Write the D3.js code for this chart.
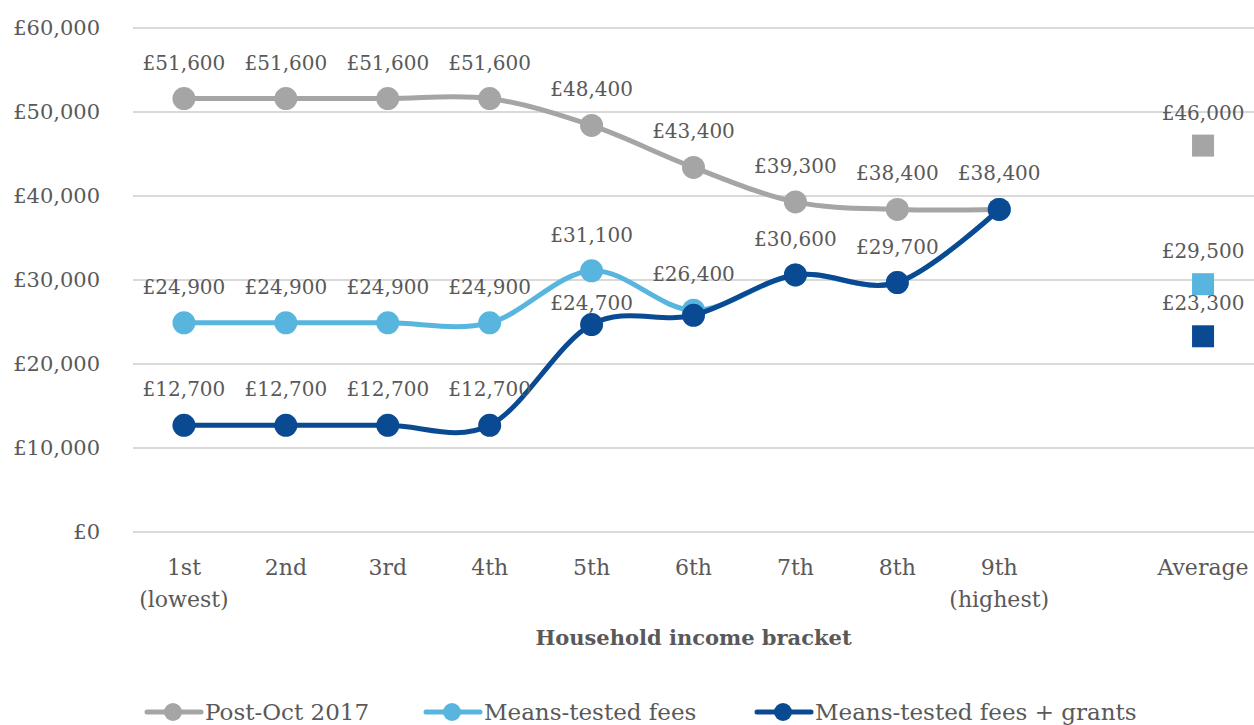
<!DOCTYPE html>
<html>
<head>
<meta charset="utf-8">
<script src="https://cdn.jsdelivr.net/npm/d3@7"></script>
<style>
  body { margin: 0; background: #fff; }
  svg text { font-family: "DejaVu Serif", serif; fill: #595959; }
</style>
</head>
<body>
<div id="vis"></div>
<script>
// categories on the x axis (the empty one is the gap before Average)
var categories = ['1st (lowest)', '2nd', '3rd', '4th', '5th', '6th', '7th', '8th', '9th (highest)', '', 'Average'];
var brackets = categories.slice(0, 9);

// series values per income bracket
var postOct = [51600, 51600, 51600, 51600, 48400, 43400, 39300, 38400, 38400];
var meansFees = [24900, 24900, 24900, 24900, 31100, 26400, 30600, 29700, 38400];
var meansGrants = [12700, 12700, 12700, 12700, 24700, 25800, 30600, 29700, 38400];

// averages, in series order
var averages = [46000, 29500, 23300];

var seriesNames = ['Post-Oct 2017', 'Means-tested fees', 'Means-tested fees + grants'];
var yTicks = [0, 10000, 20000, 30000, 40000, 50000, 60000];

var width = 1254;
var height = 725;
var colours = ['#A5A5A5', '#58B6DE', '#0A4A92'];

// labels that excel hid because they sat on top of others
var hiddenLabels = [[], [6, 7, 8], [5, 8]];

var series = [postOct, meansFees, meansGrants].map(function (vals, i) {
  return { name: seriesNames[i], values: vals, colour: colours[i], avg: averages[i], hidden: hiddenLabels[i] };
});

var x = d3.scaleBand().domain(categories).range([133, 1254]);
var y = d3.scaleLinear().domain([0, 60000]).range([532, 28]);
var cx = function (c) { return x(c) + x.bandwidth() / 2; };

var money = function (v) { return '£' + d3.format(',')(v); };

var svg = d3.select('#vis').append('svg')
  .attr('width', width)
  .attr('height', height);

// gridlines
svg.append('g').selectAll('line')
  .data(yTicks)
  .enter().append('line')
  .attr('x1', 133).attr('x2', width)
  .attr('y1', function (d) { return y(d); })
  .attr('y2', function (d) { return y(d); })
  .attr('stroke', '#D9D9D9')
  .attr('stroke-width', 2);

// y axis labels
svg.append('g').selectAll('text')
  .data(yTicks)
  .enter().append('text')
  .attr('x', 100)
  .attr('y', function (d) { return y(d); })
  .attr('dy', '0.35em')
  .attr('text-anchor', 'end')
  .style('font-size', '21px')
  .text(money);

// x axis labels, split onto two lines
var xl = svg.append('g').selectAll('text')
  .data(categories.filter(function (c) { return c !== ''; }))
  .enter().append('text')
  .attr('text-anchor', 'middle')
  .style('font-size', '22px');

xl.selectAll('tspan')
  .data(function (c) { return c.split(' ').map(function (s) { return { c: c, s: s }; }); })
  .enter().append('tspan')
  .attr('x', function (d) { return cx(d.c); })
  .attr('y', function (d, i) { return 575 + i * 32; })
  .text(function (d) { return d.s; });

svg.append('text')
  .attr('x', 133 + (width - 133) / 2)
  .attr('y', 645)
  .attr('text-anchor', 'middle')
  .style('font-size', '21px')
  .style('font-weight', 'bold')
  .text('Household income bracket');

// smooth lines like excel's
var line = d3.line()
  .x(function (d, i) { return cx(brackets[i]); })
  .y(function (d) { return y(d); })
  .curve(d3.curveCatmullRom.alpha(0));

var sg = svg.selectAll('.series')
  .data(series)
  .enter().append('g')
  .attr('class', 'series');

sg.append('path')
  .attr('d', function (d) { return line(d.values); })
  .attr('fill', 'none')
  .attr('stroke', function (d) { return d.colour; })
  .attr('stroke-width', 5);

sg.selectAll('circle')
  .data(function (d) { return d.values.map(function (v, i) { return { v: v, i: i, colour: d.colour }; }); })
  .enter().append('circle')
  .attr('cx', function (d) { return cx(brackets[d.i]); })
  .attr('cy', function (d) { return y(d.v); })
  .attr('r', 11.5)
  .attr('fill', function (d) { return d.colour; });

// average squares
sg.append('rect')
  .attr('x', cx('Average') - 11)
  .attr('y', function (d) { return y(d.avg) - 11; })
  .attr('width', 22)
  .attr('height', 22)
  .attr('fill', function (d) { return d.colour; });

// data labels
series.forEach(function (s, si) {
  var lab = s.values.map(function (v, i) { return { v: v, i: i }; })
    .filter(function (d) { return s.hidden.indexOf(d.i) < 0; });
  svg.append('g').selectAll('text')
    .data(lab)
    .enter().append('text')
    .attr('x', function (d) { return cx(brackets[d.i]); })
    .attr('y', function (d) {
      // the 5th bracket label for grants was nudged down in the original
      var off = (si === 2 && d.i === 4) ? 22 : 36;
      return y(d.v) - off;
    })
    .attr('dy', '0.35em')
    .attr('text-anchor', 'middle')
    .style('font-size', '20px')
    .text(function (d) { return money(d.v); });

  svg.append('text')
    .attr('x', cx('Average'))
    .attr('y', y(s.avg) - 33)
    .attr('dy', '0.35em')
    .attr('text-anchor', 'middle')
    .style('font-size', '20px')
    .text(money(s.avg));
});

// legend
var legendX = [147, 426, 757];
var lg = svg.selectAll('.legend')
  .data(series)
  .enter().append('g')
  .attr('class', 'legend')
  .attr('transform', function (d, i) { return 'translate(' + legendX[i] + ',712)'; });

lg.append('line')
  .attr('x1', 0).attr('x2', 54)
  .attr('stroke', function (d) { return d.colour; })
  .attr('stroke-width', 5)
  .attr('stroke-linecap', 'round');

lg.append('circle')
  .attr('cx', 26)
  .attr('r', 9)
  .attr('fill', function (d) { return d.colour; });

lg.append('text')
  .attr('x', 58)
  .attr('dy', '0.35em')
  .style('font-size', '23px')
  .text(function (d) { return d.name; });
</script>
</body>
</html>
